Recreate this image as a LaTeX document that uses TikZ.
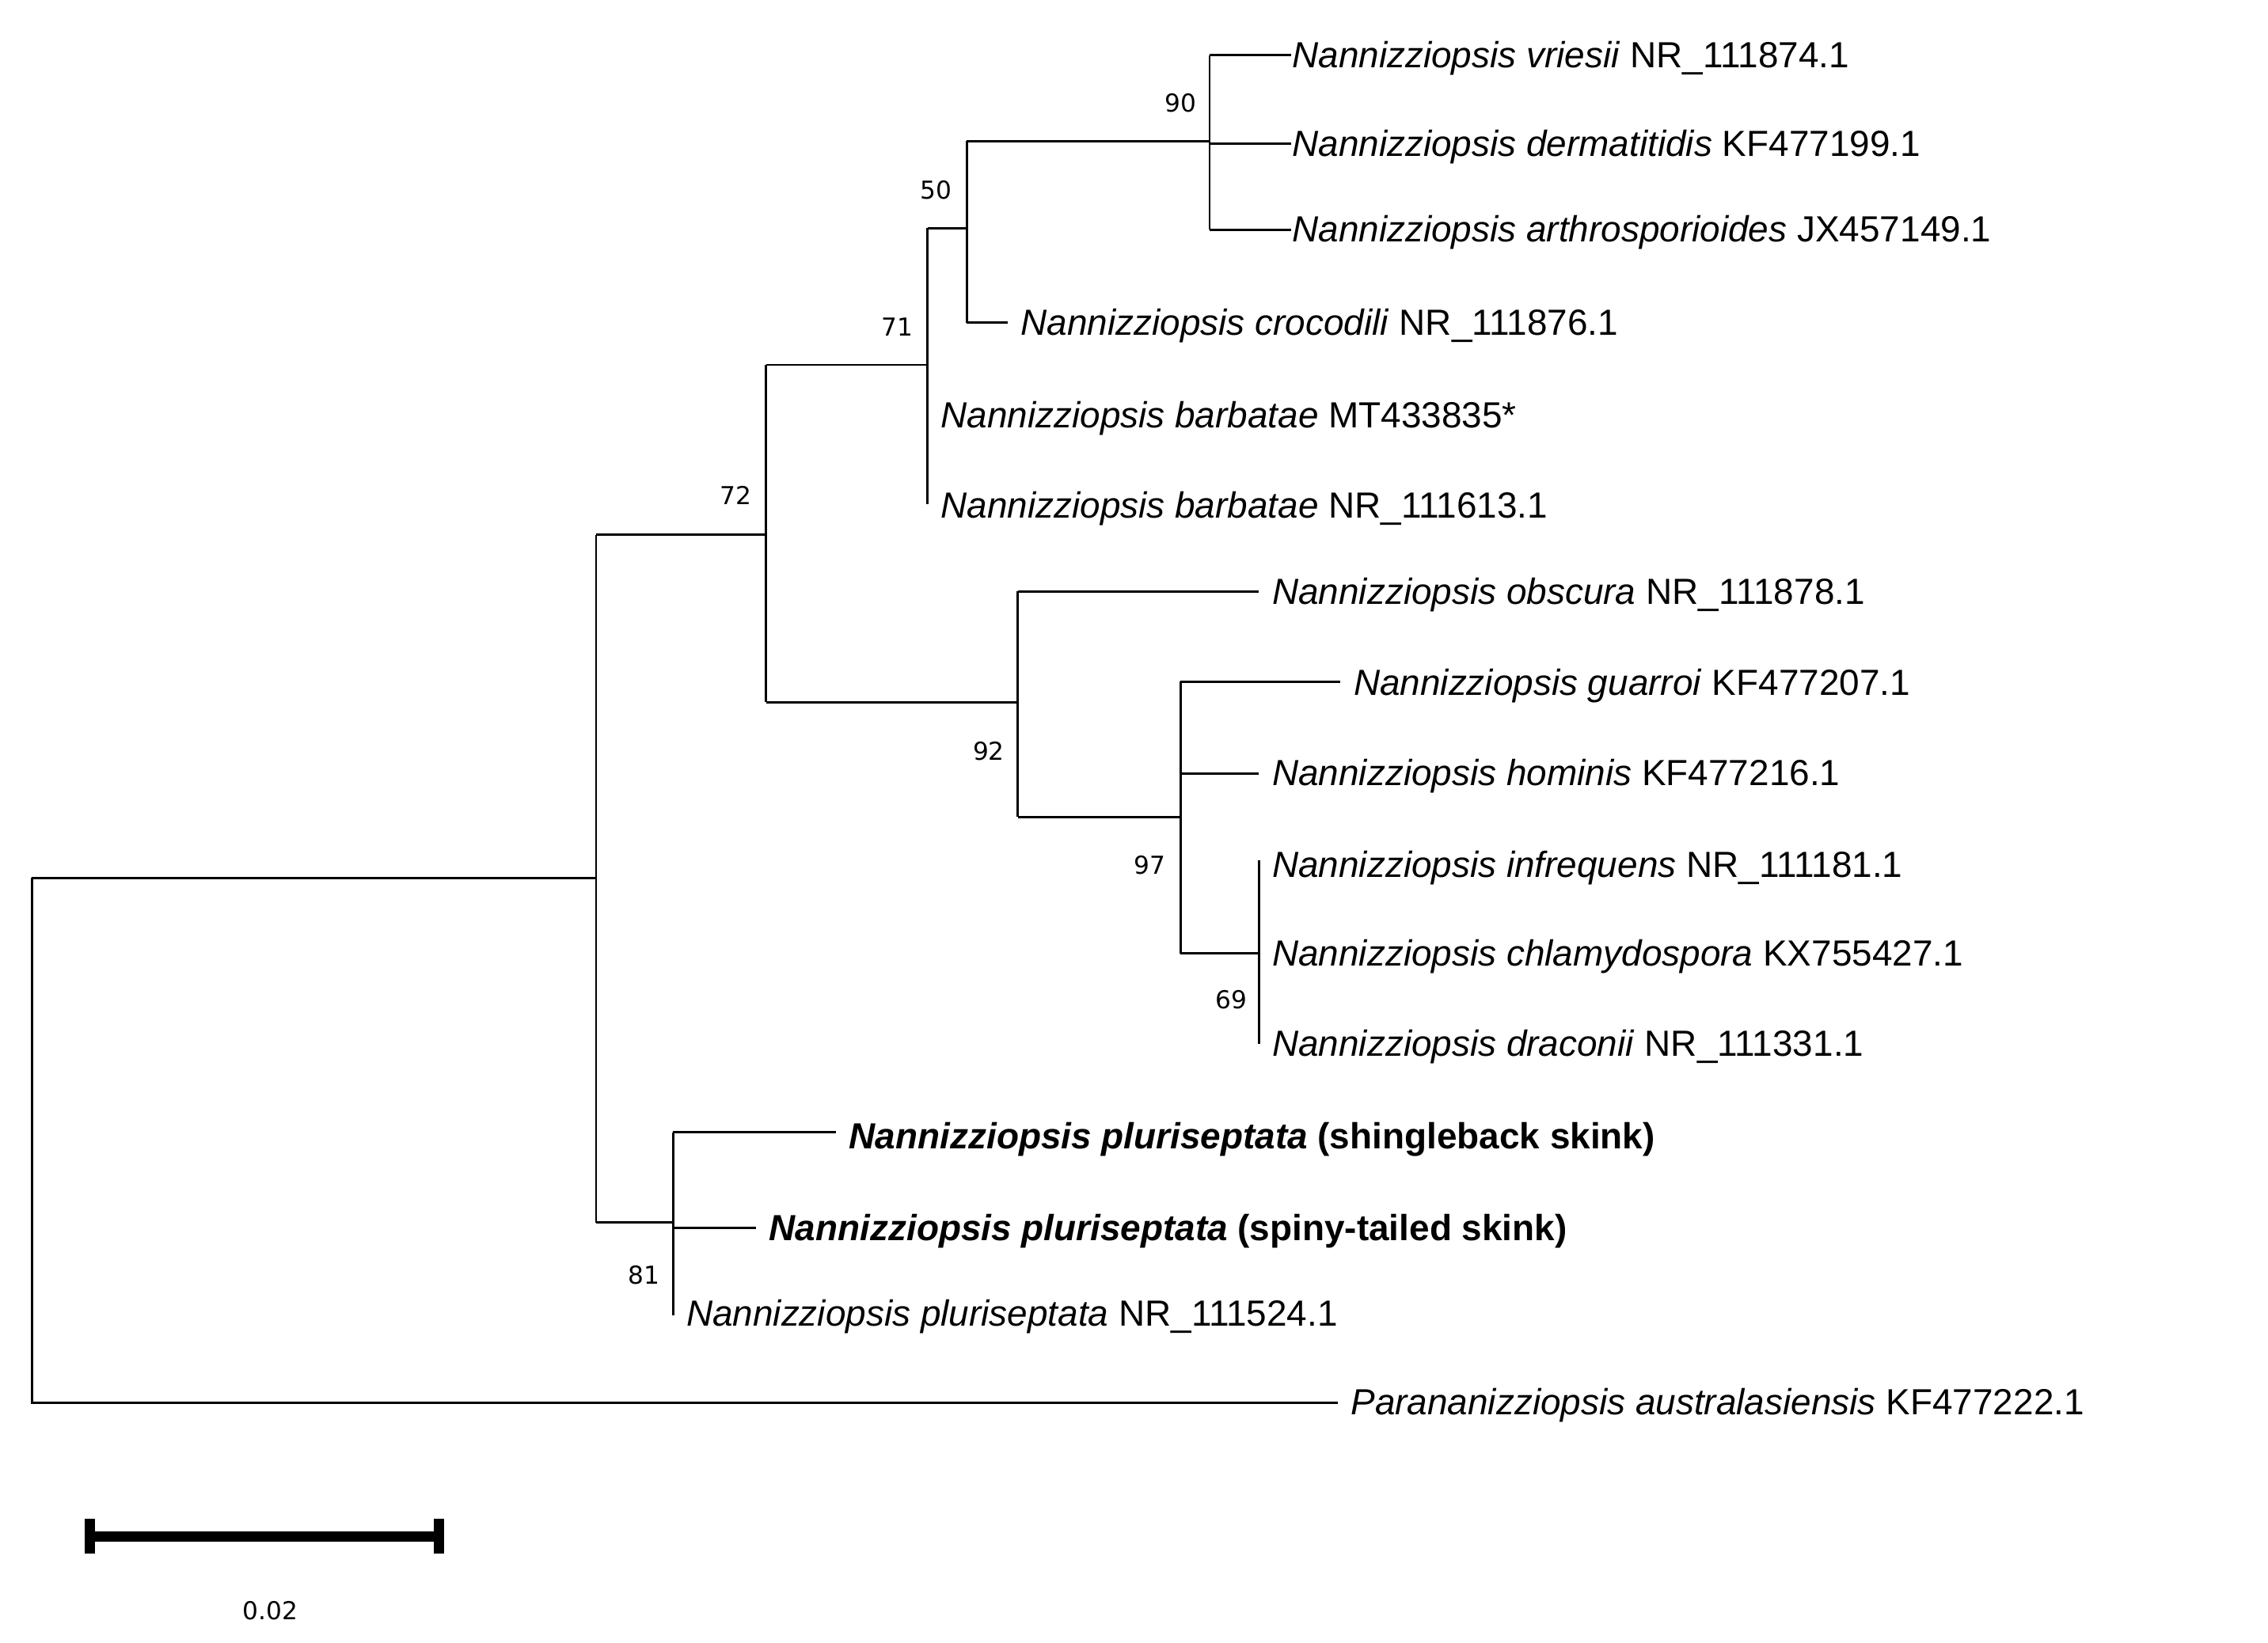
\documentclass[tikz,border=0pt]{standalone}
\usepackage{fontspec}
\setmainfont{Liberation Sans}
\newfontfamily\bsfont{DejaVu Sans}
\begin{document}
\begin{tikzpicture}[x=1pt,y=-1pt,line width=1.6pt,
  leaf/.style={anchor=west,inner sep=0pt,font=\fontsize{25}{30}\selectfont},
  bs/.style={inner sep=0pt,font=\bsfont\fontsize{17}{20}\selectfont}]
\useasboundingbox (0,0) rectangle (1560,1130);
% coordinates of internal nodes
\coordinate (R) at (22,604);
\coordinate (A) at (410,604);
\coordinate (B) at (527,368);
\coordinate (C) at (638,251);
\coordinate (D) at (665,157);
\coordinate (E) at (832,97);
\coordinate (F) at (700,483);
\coordinate (G) at (812,562);
\coordinate (H) at (866,656);
\coordinate (I) at (463,841);
% leaves
\node[leaf] (l1) at (888,40) {\textit{Nannizziopsis vriesii} NR\_111874.1};
\node[leaf] (l2) at (888,101) {\textit{Nannizziopsis dermatitidis} KF477199.1};
\node[leaf] (l3) at (888,160) {\textit{Nannizziopsis arthrosporioides} JX457149.1};
\node[leaf] (l4) at (693,224) {\,\,\textit{Nannizziopsis crocodili} NR\_111876.1};
\node[leaf] (l5) at (638,288) {\,\,\textit{Nannizziopsis barbatae} MT433835*};
\node[leaf] (l6) at (638,350) {\,\,\textit{Nannizziopsis barbatae} NR\_111613.1};
\node[leaf] (l7) at (866,409) {\,\,\textit{Nannizziopsis obscura} NR\_111878.1};
\node[leaf] (l8) at (922,472) {\,\,\textit{Nannizziopsis guarroi} KF477207.1};
\node[leaf] (l9) at (866,534) {\,\,\textit{Nannizziopsis hominis} KF477216.1};
\node[leaf] (l10) at (866,597) {\,\,\textit{Nannizziopsis infrequens} NR\_111181.1};
\node[leaf] (l11) at (866,658) {\,\,\textit{Nannizziopsis chlamydospora} KX755427.1};
\node[leaf] (l12) at (866,720) {\,\,\textit{Nannizziopsis draconii} NR\_111331.1};
\node[leaf] (l13) at (575,784) {\,\,\textbf{\textit{Nannizziopsis pluriseptata} (shingleback skink)}};
\node[leaf] (l14) at (520,847) {\,\,\textbf{\textit{Nannizziopsis pluriseptata} (spiny-tailed skink)}};
\node[leaf] (l15) at (463,906) {\,\,\textit{Nannizziopsis pluriseptata} NR\_111524.1};
\node[leaf] (l16) at (920,967) {\,\,\textit{Parananizziopsis australasiensis} KF477222.1};
% branches
\draw (R|-A) ++(0,0) coordinate (R0);
\draw (22,604) -- (22,965) -- (l16.west|-22,965);
\draw (22,604) -- (A);
\draw (410,368) -- (410,841);
\draw (410,368) -- (B);
\draw (527,251) -- (527,483);
\draw (527,251) -- (C);
\draw (638,157) -- (638,347);
\draw (638,157) -- (D);
\draw (665,97) -- (665,222);
\draw (665,222) -- (l4.west|-665,222);
\draw (665,97) -- (E);
\draw (832,38) -- (832,158);
\draw (832,38) -- (l1.west|-832,38);
\draw (832,99) -- (l2.west|-832,99);
\draw (832,158) -- (l3.west|-832,158);
\draw (527,483) -- (F);
\draw (700,407) -- (700,562);
\draw (700,407) -- (l7.west|-700,407);
\draw (700,562) -- (G);
\draw (812,469) -- (812,656);
\draw (812,469) -- (l8.west|-812,469);
\draw (812,532) -- (l9.west|-812,532);
\draw (812,656) -- (H);
\draw (866,592) -- (866,718);
\draw (410,841) -- (I);
\draw (463,779) -- (463,905);
\draw (463,779) -- (l13.west|-463,779);
\draw (463,845) -- (l14.west|-463,845);
% bootstrap
\node[bs] (b90) at (812,71) {90};
\node[bs] (b50) at (644,131) {50};
\node[bs] (b71) at (617,225) {71};
\node[bs] (b72) at (506,341) {72};
\node[bs] (b92) at (680,517) {92};
\node[bs] (b97) at (791,595) {97};
\node[bs] (b69) at (847,688) {69};
\node[bs] (b81) at (443,877) {81};
% scale bar
\coordinate (s1) at (62,1057);
\coordinate (s2) at (302,1057);
\draw[line width=7pt] (s1) -- (s2);
\draw[line width=7pt] (62,1045) -- (62,1069);
\draw[line width=7pt] (302,1045) -- (302,1069);
\node[bs] (sl) at (186,1108) {0.02};
\end{tikzpicture}
\end{document}
